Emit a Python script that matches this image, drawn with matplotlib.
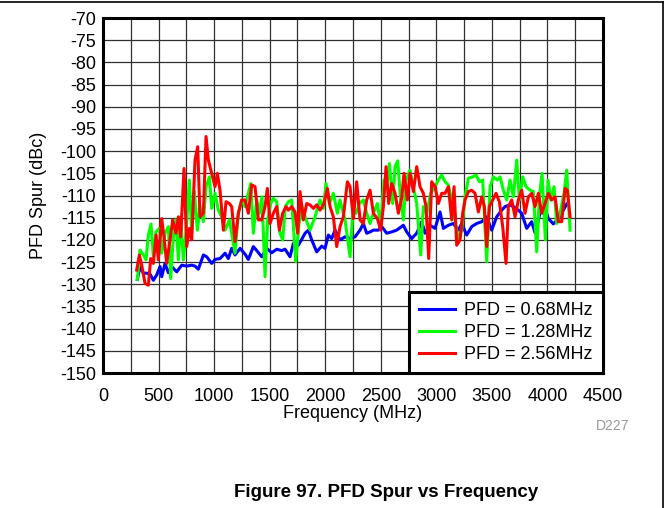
import matplotlib
matplotlib.use("Agg")
import matplotlib.pyplot as plt
from matplotlib.lines import Line2D

plt.rcParams['font.family'] = ['Liberation Sans', 'DejaVu Sans']

# PFD = 0.68 MHz
f_068 = [309, 333, 363, 393, 423, 453, 483, 513, 528, 558, 588, 618, 663, 708, 753, 798,
         828, 858, 903, 933, 978, 1008, 1053, 1098, 1128, 1158, 1188, 1233, 1278, 1308,
         1353, 1383, 1428, 1473, 1518, 1563, 1608, 1638, 1683, 1713, 1758, 1788, 1818,
         1848, 1878, 1923, 1968, 1998, 2028, 2058, 2088, 2133, 2178, 2223, 2268, 2313,
         2343, 2373, 2403, 2433, 2478, 2508, 2553, 2598, 2643, 2703, 2733, 2778, 2823,
         2868, 2898, 2943, 2988, 3033, 3063, 3108, 3153, 3198, 3228, 3273, 3318, 3363,
         3408, 3453, 3498, 3543, 3588, 3618, 3663, 3693, 3738, 3768, 3813, 3858, 3888,
         3933, 3978, 4008, 4053, 4098, 4143, 4173]
s_068 = [-128.9, -126.0, -127.5, -127.5, -127.7, -129.1, -127.9, -126.0, -128.3, -125.3,
         -127.4, -126.0, -127.2, -125.7, -125.9, -125.7, -125.9, -126.6, -123.4, -123.8,
         -125.3, -124.4, -124.2, -123.0, -124.2, -121.9, -123.4, -121.9, -123.2, -124.4,
         -121.5, -122.4, -123.8, -121.9, -122.9, -122.1, -122.4, -122.1, -123.8, -120.8,
         -121.2, -119.9, -118.5, -117.8, -120.0, -122.7, -121.4, -121.9, -118.9, -119.7,
         -117.8, -120.0, -119.3, -119.7, -119.3, -117.8, -116.3, -118.5, -118.2, -117.8,
         -117.8, -117.0, -118.5, -118.2, -117.8, -116.7, -118.2, -119.7, -118.5, -115.9,
         -118.5, -116.7, -117.4, -113.7, -117.4, -116.7, -116.3, -117.8, -116.3, -118.9,
         -117.0, -116.3, -115.9, -114.8, -117.8, -114.8, -113.3, -112.5, -112.1, -112.5,
         -113.3, -114.0, -117.4, -115.9, -118.4, -114.0, -112.9, -115.2, -116.4, -115.2,
         -113.3, -111.9]

# PFD = 1.28 MHz
f_128 = [309, 333, 363, 387, 408, 432, 453, 477, 507, 528, 558, 588, 609, 633, 657, 678,
         699, 723, 747, 777, 798, 822, 849, 873, 903, 927, 957, 978, 1008, 1038, 1068,
         1098, 1137, 1167, 1188, 1218, 1248, 1278, 1308, 1329, 1353, 1383, 1407, 1431,
         1458, 1482, 1509, 1533, 1563, 1593, 1617, 1641, 1668, 1698, 1734, 1764, 1794,
         1827, 1863, 1908, 1953, 1983, 2007, 2037, 2073, 2109, 2133, 2178, 2223, 2247,
         2277, 2307, 2343, 2373, 2403, 2433, 2469, 2499, 2529, 2553, 2577, 2607, 2628,
         2652, 2679, 2703, 2727, 2763, 2793, 2823, 2859, 2883, 2913, 2949, 2988, 3018,
         3048, 3078, 3108, 3138, 3168, 3198, 3228, 3258, 3288, 3327, 3357, 3387, 3417,
         3453, 3483, 3513, 3549, 3573, 3603, 3633, 3663, 3693, 3723, 3747, 3777, 3807,
         3843, 3873, 3903, 3927, 3951, 3981, 4005, 4029, 4059, 4083, 4113, 4149, 4173,
         4203]
s_128 = [-128.9, -122.3, -123.4, -124.5, -118.9, -116.4, -123.8, -118.2, -117.4, -123.0,
         -118.5, -117.0, -128.7, -119.3, -115.5, -124.5, -114.8, -124.5, -118.5, -106.5,
         -118.5, -109.1, -117.8, -112.5, -115.9, -108.0, -105.8, -112.9, -109.5, -113.3,
         -114.8, -117.8, -115.5, -120.0, -123.0, -114.0, -111.0, -112.5, -109.5, -107.3,
         -118.5, -111.0, -114.0, -110.3, -128.3, -115.5, -111.8, -110.6, -111.4, -118.5,
         -120.0, -112.5, -111.4, -111.0, -124.9, -116.3, -112.5, -115.5, -117.8, -114.8,
         -111.0, -112.9, -107.3, -111.8, -109.5, -114.0, -111.0, -115.5, -123.8, -114.0,
         -114.0, -111.8, -111.0, -114.0, -116.3, -114.0, -111.8, -117.0, -106.5, -107.6,
         -102.8, -111.8, -103.5, -102.2, -111.0, -115.5, -106.5, -104.3, -108.0, -111.8,
         -123.4, -112.5, -114.0, -109.5, -108.0, -106.5, -105.4, -106.9, -107.6, -111.0,
         -115.5, -120.0, -117.8, -110.3, -106.1, -105.8, -105.4, -106.9, -106.5, -124.9,
         -108.0, -105.8, -106.5, -105.8, -108.8, -111.0, -106.5, -110.3, -102.0, -111.0,
         -105.8, -108.0, -108.8, -109.1, -122.7, -110.3, -105.0, -120.0, -106.5, -111.0,
         -108.0, -116.3, -114.0, -109.5, -104.3, -117.8]

# PFD = 2.56 MHz
f_256 = [303, 327, 348, 378, 408, 429, 453, 477, 498, 528, 552, 573, 603, 627, 657, 678,
         699, 729, 753, 777, 798, 828, 852, 873, 903, 927, 948, 978, 1008, 1029, 1053,
         1083, 1107, 1137, 1158, 1188, 1218, 1248, 1278, 1308, 1338, 1368, 1398, 1428,
         1458, 1479, 1503, 1533, 1563, 1587, 1617, 1647, 1668, 1698, 1728, 1752, 1773,
         1803, 1833, 1863, 1893, 1923, 1953, 1989, 2019, 2043, 2073, 2103, 2133, 2163,
         2199, 2223, 2253, 2283, 2313, 2343, 2373, 2403, 2433, 2469, 2499, 2523, 2547,
         2571, 2598, 2628, 2658, 2688, 2709, 2739, 2763, 2793, 2823, 2853, 2883, 2907,
         2931, 2958, 2988, 3018, 3048, 3078, 3108, 3138, 3159, 3183, 3213, 3237, 3258,
         3288, 3318, 3348, 3378, 3408, 3432, 3453, 3477, 3507, 3537, 3567, 3597, 3627,
         3648, 3678, 3708, 3738, 3768, 3798, 3828, 3858, 3888, 3918, 3948, 3978, 4008,
         4038, 4068, 4098, 4128, 4158, 4179, 4203]
s_256 = [-126.8, -123.4, -125.7, -129.8, -130.2, -124.2, -125.3, -118.9, -124.5, -115.2,
         -120.0, -125.3, -120.0, -115.5, -118.5, -114.8, -119.3, -103.9, -121.5, -117.4,
         -120.0, -102.0, -99.0, -114.8, -114.0, -96.7, -102.0, -105.0, -108.0, -105.0,
         -108.8, -117.8, -111.4, -111.8, -112.5, -120.4, -114.0, -111.0, -111.0, -114.0,
         -107.6, -108.0, -115.5, -115.5, -112.5, -108.4, -116.3, -114.0, -112.5, -117.8,
         -114.0, -112.5, -113.3, -112.5, -113.7, -118.5, -109.1, -115.5, -111.8, -112.1,
         -112.9, -112.1, -113.3, -111.8, -108.4, -112.5, -114.8, -121.5, -117.0, -114.8,
         -106.9, -108.0, -115.2, -106.9, -115.5, -116.3, -111.0, -108.8, -114.0, -115.2,
         -117.8, -112.5, -103.5, -111.8, -107.3, -109.5, -114.0, -110.6, -105.0, -111.0,
         -105.0, -109.1, -103.5, -108.0, -109.5, -112.5, -124.2, -106.9, -108.0, -111.8,
         -109.5, -109.5, -108.0, -115.5, -108.0, -121.2, -120.0, -114.0, -111.0, -109.1,
         -108.8, -109.5, -113.7, -110.3, -112.5, -121.5, -112.5, -111.0, -109.5, -111.4,
         -117.0, -125.3, -112.5, -111.0, -114.8, -111.0, -108.8, -114.0, -110.3, -109.5,
         -112.5, -109.5, -114.0, -111.8, -109.5, -111.0, -110.3, -115.9, -115.9, -108.4,
         -108.8, -114.8]

series_names = ['PFD = 0.68MHz', 'PFD = 1.28MHz', 'PFD = 2.56MHz']
series_colors = ['#0000ff', '#00ff00', '#ff0000']

x_ticks = list(range(0, 4501, 500))
y_ticks = list(range(-150, -69, 5))

fig = plt.figure(figsize=(6.69, 5.08), dpi=100)
ax = fig.add_axes([0.154, 0.2657, 0.7474, 0.6988])

# grid every 250 MHz / 5 dB
for v in range(250, 4500, 250):
    ax.axvline(v, color='#303030', lw=0.9, zorder=1)
for v in range(-145, -70, 5):
    ax.axhline(v, color='#303030', lw=0.9, zorder=1)

data = [(f_068, s_068), (f_128, s_128), (f_256, s_256)]
for (f, s), name, c in zip(data, series_names, series_colors):
    ax.plot(f, s, color=c, lw=2.2, label=name, zorder=3)

ax.set_xlim(0, 4500)
ax.set_ylim(-150, -70)
ax.set_xticks(x_ticks)
ax.set_yticks(y_ticks)
ax.set_xticklabels([str(v) for v in x_ticks])
ax.set_yticklabels([str(v) for v in y_ticks])
ax.tick_params(length=0, labelsize=13)
ax.tick_params(axis='x', pad=11)
ax.tick_params(axis='y', pad=5)
for sp in ax.spines.values():
    sp.set_linewidth(2.2)
    sp.set_zorder(5)

ax.set_xlabel('Frequency (MHz)', fontsize=13, labelpad=0)
ax.set_ylabel('PFD Spur (dBc)', fontsize=13, labelpad=9)

leg = ax.legend(loc='lower right', bbox_to_anchor=(1.0, 0.0), borderaxespad=0,
                fontsize=13, handlelength=1.95, handletextpad=0.55,
                labelspacing=0.28, borderpad=0.55, fancybox=False, framealpha=1)
leg.get_frame().set_edgecolor('black')
leg.get_frame().set_linewidth(2.2)
leg.set_zorder(6)

fig.text(0.916, 0.154, 'D227', fontsize=10, color='#999999', ha='center')
fig.text(0.577, 0.021, 'Figure 97. PFD Spur vs Frequency', fontsize=13.5,
         fontweight='bold', ha='center')

# border lines at top and right edge of the page
fig.add_artist(Line2D([0, 0.991], [0.996, 0.996], color='black', lw=1.2,
                      transform=fig.transFigure))
fig.add_artist(Line2D([0.991, 0.991], [0, 0.996], color='black', lw=1.2,
                      transform=fig.transFigure))

fig.savefig('out.png', dpi=100)
